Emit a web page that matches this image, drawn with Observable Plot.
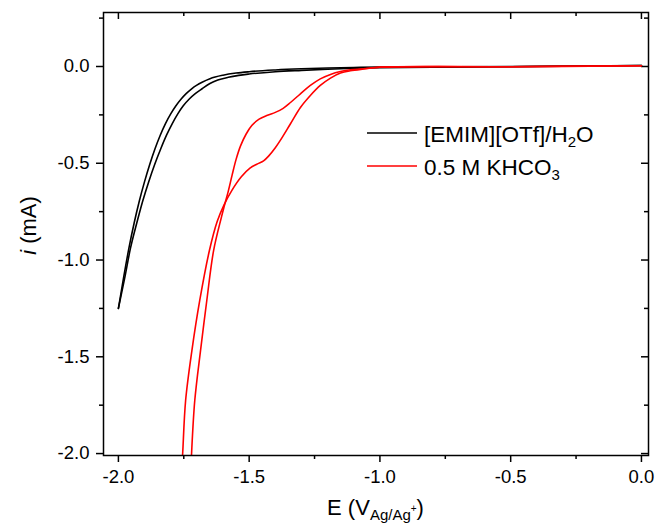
<!DOCTYPE html>
<html><head><meta charset="utf-8">
<script src="https://cdn.jsdelivr.net/npm/d3@7"></script>
<script src="https://cdn.jsdelivr.net/npm/@observablehq/plot@0.6"></script>
<style>
body{margin:0;background:#fff;}
#chart{width:660px;height:526px;}
</style></head><body><div id="chart"></div>
<script>
// ---- data ----
// [EMIM][OTf]/H2O, two branches of the voltammogram (E ascending)
const blackA_E = [-2.0, -1.98, -1.96, -1.94, -1.92, -1.90, -1.88, -1.86, -1.84, -1.82, -1.80, -1.78, -1.76, -1.74, -1.72, -1.70, -1.68, -1.65, -1.60, -1.55, -1.50, -1.40, -1.30, -1.20, -1.10, -1.00, -0.50, 0.0];
const blackA_i = [-1.25, -1.09, -0.94, -0.81, -0.695, -0.595, -0.505, -0.425, -0.355, -0.295, -0.245, -0.203, -0.168, -0.139, -0.115, -0.096, -0.081, -0.063, -0.045, -0.034, -0.027, -0.018, -0.012, -0.008, -0.005, -0.003, 0.0, 0.005];
const blackB_E = [-2.0, -1.977, -1.954, -1.930, -1.907, -1.884, -1.861, -1.838, -1.816, -1.794, -1.773, -1.752, -1.729, -1.705, -1.68, -1.65, -1.62, -1.58, -1.54, -1.50, -1.40, -1.30, -1.20, -1.10, -1.00, -0.80, -0.50, 0.0];
const blackB_i = [-1.25, -1.10, -0.94, -0.81, -0.695, -0.595, -0.505, -0.425, -0.355, -0.295, -0.245, -0.203, -0.168, -0.139, -0.115, -0.088, -0.070, -0.056, -0.046, -0.039, -0.027, -0.020, -0.014, -0.009, -0.006, -0.003, -0.001, 0.005];
// 0.5 M KHCO3, two branches (E ascending)
const redC_E = [-1.722, -1.720, -1.708, -1.686, -1.662, -1.636, -1.606, -1.596, -1.580, -1.565, -1.550, -1.533, -1.512, -1.490, -1.462, -1.430, -1.400, -1.370, -1.342, -1.304, -1.266, -1.228, -1.189, -1.151, -1.113, -1.063, -1.0, -0.5, 0.0];
const redC_i = [-2.06, -1.993, -1.726, -1.468, -1.209, -0.951, -0.778, -0.725, -0.645, -0.56, -0.48, -0.41, -0.35, -0.305, -0.272, -0.252, -0.237, -0.216, -0.186, -0.141, -0.098, -0.064, -0.041, -0.026, -0.017, -0.012, -0.004, -0.001, 0.004];
const redD_E = [-1.757, -1.754, -1.743, -1.719, -1.689, -1.652, -1.622, -1.596, -1.566, -1.530, -1.497, -1.468, -1.445, -1.425, -1.400, -1.381, -1.342, -1.304, -1.266, -1.228, -1.189, -1.151, -1.113, -1.055, -1.0, -0.5, 0.0];
const redD_i = [-2.06, -1.993, -1.726, -1.468, -1.209, -0.951, -0.80, -0.715, -0.64, -0.57, -0.525, -0.503, -0.488, -0.462, -0.42, -0.382, -0.296, -0.212, -0.150, -0.098, -0.060, -0.034, -0.022, -0.012, -0.003, -0.001, 0.004];

const xMajor = [-2.0, -1.5, -1.0, -0.5, 0.0];
const xMinor = [-1.75, -1.25, -0.75, -0.25];
const yMajor = [0.0, -0.5, -1.0, -1.5, -2.0];
const yMinor = [0.25, -0.25, -0.75, -1.25, -1.75];

const xDomain = [-2.057, 0.027];
const yDomain = [-2.01, 0.279];

const rows = (E, I) => E.map((e, k) => ({E: e, i: I[k]}));

const W = 660, H = 526, mL = 103, mR = 12, mT = 12, mB = 71;
const plotW = W - mL - mR, plotH = H - mT - mB;
const fmt = d => d.toFixed(1);
const FONT = "'Liberation Sans', Arial, sans-serif";

const lineOpts = (stroke, curve) => ({x: "E", y: "i", stroke, strokeWidth: 1.6, curve, clip: true});

const chart = Plot.plot({
  width: W, height: H,
  marginLeft: mL, marginRight: mR, marginTop: mT, marginBottom: mB,
  style: {fontFamily: FONT, fontSize: "18.5px", background: "#fff", color: "#000"},
  x: {domain: xDomain, label: null},
  y: {domain: yDomain, label: null},
  marks: [
    Plot.axisX(xMajor, {tickSize: 0, tickPadding: 14, tickFormat: fmt, fontSize: 18.5, fill: "#000"}),
    Plot.axisY(yMajor, {tickSize: 0, tickPadding: 14, tickFormat: fmt, fontSize: 18.5, fill: "#000"}),
    // outward ticks, left and bottom
    Plot.tickY(yMajor, {y: d => d, insetLeft: -7, insetRight: plotW, stroke: "#000", strokeWidth: 1.5}),
    Plot.tickY(yMinor.filter(d => d > -2), {y: d => d, insetLeft: -4, insetRight: plotW, stroke: "#000", strokeWidth: 1.5}),
    Plot.tickX(xMajor, {x: d => d, insetTop: plotH, insetBottom: -7, stroke: "#000", strokeWidth: 1.5}),
    Plot.tickX(xMinor, {x: d => d, insetTop: plotH, insetBottom: -4, stroke: "#000", strokeWidth: 1.5}),
    // inward ticks, right and top
    Plot.tickY(yMajor, {y: d => d, insetLeft: plotW - 7, stroke: "#000", strokeWidth: 1.5}),
    Plot.tickY(yMinor, {y: d => d, insetLeft: plotW - 4, stroke: "#000", strokeWidth: 1.5}),
    Plot.tickX(xMajor, {x: d => d, insetBottom: plotH - 7, stroke: "#000", strokeWidth: 1.5}),
    Plot.tickX(xMinor, {x: d => d, insetBottom: plotH - 4, stroke: "#000", strokeWidth: 1.5}),
    // curves
    Plot.line(rows(blackA_E, blackA_i), lineOpts("#000000", "monotone-x")),
    Plot.line(rows(blackB_E, blackB_i), lineOpts("#000000", "monotone-x")),
    Plot.line(rows(redC_E, redC_i), lineOpts("#ff0000", "catmull-rom")),
    Plot.line(rows(redD_E, redD_i), lineOpts("#ff0000", "catmull-rom")),
    Plot.frame({stroke: "#000", strokeWidth: 1.5})
  ]
});

const svg = d3.select(chart);
// x axis title
const xt = svg.append("text").attr("x", mL + plotW / 2).attr("y", 515)
  .attr("text-anchor", "middle").attr("fill", "#000")
  .style("font-family", FONT).style("font-size", "22px");
xt.append("tspan").text("E (V");
xt.append("tspan").attr("dy", 5).style("font-size", "15px").text("Ag/Ag");
xt.append("tspan").attr("dy", -8).style("font-size", "10px").text("+");
xt.append("tspan").attr("dy", 3).style("font-size", "22px").text(")");
// y axis title
const yt = svg.append("text").attr("transform", `translate(36,${mT + plotH / 2 - 8}) rotate(-90)`)
  .attr("text-anchor", "middle").attr("fill", "#000")
  .style("font-family", FONT).style("font-size", "22px");
yt.append("tspan").style("font-style", "italic").text("i");
yt.append("tspan").text(" (mA)");
// legend
const legend = [
  {color: "#000000", y: 133, parts: [["[EMIM][OTf]/H", 0], ["2", 1], ["O", 2]]},
  {color: "#ff0000", y: 166, parts: [["0.5 M KHCO", 0], ["3", 1]]}
];
legend.forEach(L => {
  svg.append("line").attr("x1", 367).attr("x2", 417).attr("y1", L.y).attr("y2", L.y)
    .attr("stroke", L.color).attr("stroke-width", 1.6);
  const t = svg.append("text").attr("x", 424).attr("y", L.y + 8.5).attr("fill", "#000")
    .attr("text-anchor", "start")
    .style("font-family", FONT).style("font-size", "22.5px");
  L.parts.forEach(([s, kind]) => {
    const ts = t.append("tspan").text(s);
    if (kind === 1) ts.attr("dy", 5).style("font-size", "15px");
    if (kind === 2) ts.attr("dy", -5).style("font-size", "22.5px");
  });
});

document.getElementById("chart").appendChild(chart);
</script>
</body></html>
